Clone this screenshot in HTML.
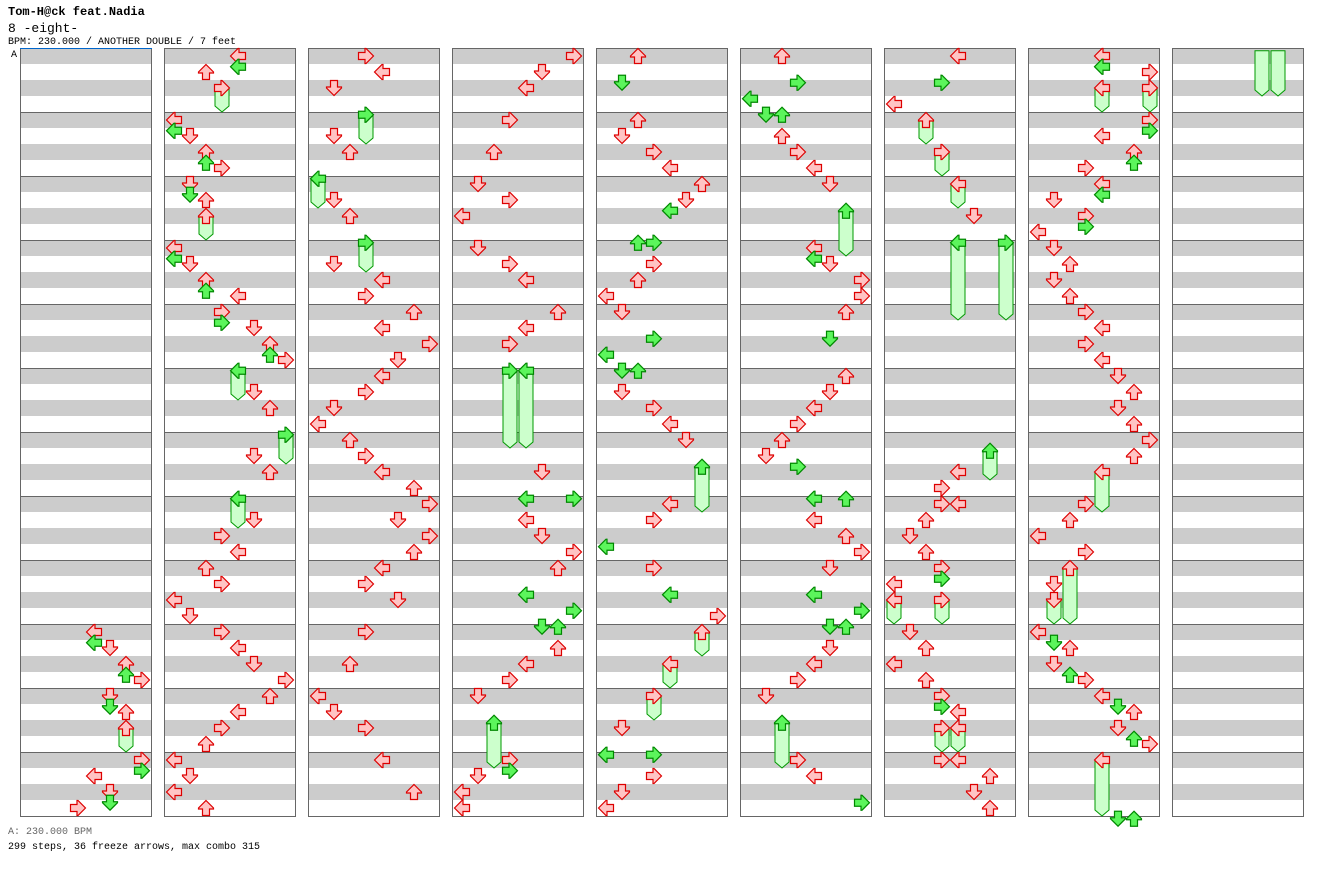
<!DOCTYPE html>
<html><head><meta charset="utf-8"><title>8 -eight- ANOTHER DOUBLE</title>
<style>
html,body{margin:0;padding:0;background:#fff;}
svg{display:block;font-family:"Liberation Mono",monospace;}
</style></head>
<body>
<svg id="chart" width="1328" height="876" viewBox="0 0 1328 876" xmlns="http://www.w3.org/2000/svg">
<text x="8" y="15" font-size="12" font-weight="bold" fill="#000">Tom-H@ck feat.Nadia</text>
<text x="8" y="32" font-size="13" fill="#000">8 -eight-</text>
<text x="8" y="44" font-size="10" fill="#000">BPM: 230.000 / ANOTHER DOUBLE / 7 feet</text>
<g id="cols"></g>
<g id="bodies"></g>
<g id="arrows"></g>
<line x1="20" y1="48.5" x2="152" y2="48.5" stroke="#0066cc" stroke-width="1"/>
<text x="11" y="57" font-size="10" fill="#000">A</text>
<text x="8" y="834" font-size="10" fill="#666">A: 230.000 BPM</text>
<text x="8" y="849" font-size="10" fill="#000">299 steps, 36 freeze arrows, max combo 315</text>
</svg>
<script>
// ---- chart data: per column, beat within column (0..47) and lane (0..7) ----
const noteBeats = [
[36,36.67,37,38,38.67,39,40,40.67,41,44,44.67,45,46,46.67,47],
[0,0.67,1,4,4.67,5,6,6.67,7,8,8.67,9,12,12.67,13,14,14.67,15,16,16.67,17,18,18.67,19,21,22,25,26,29,30,31,32,33,34,35,36,37,38,39,40,41,42,43,44,45,46,47],
[0,1,2,5,6,9,10,13,14,15,16,17,18,19,20,21,22,23,24,25,26,27,28,29,30,31,32,33,34,36,38,40,41,42,44,46],
[0,1,2,4,6,8,9,10,12,13,14,16,17,18,26,27.67,27.67,29,30,31,32,33.67,34.67,35.67,35.67,37,38,39,40,44,44.67,45,46,47],
[0,1.67,4,5,6,7,8,9,9.67,11.67,11.67,13,14,15,16,17.67,18.67,19.67,19.67,21,22,23,24,28,29,30.67,32,33.67,35,42,43.67,43.67,45,46,47],
[0,1.67,2.67,3.67,3.67,5,6,7,8,12,12.67,13,14,15,16,17.67,20,21,22,23,24,25,25.67,27.67,27.67,29,30,31,32,33.67,34.67,35.67,35.67,37,38,39,40,44,45,46.67],
[0,1.67,3,10,26,27,28,28,29,30,31,32,32.67,33,36,37,38,39,40,40.67,41,44,44,45,46,47],
[0,0.67,1,4,4.67,5,6,6.67,7,8,8.67,9,10,10.67,11,12,13,14,15,16,17,18,19,20,21,22,23,24,25,28,29,30,31,33,36,36.67,37,38,38.67,39,40,40.67,41,42,42.67,43],
[]];
const noteLanes = [
[4,4,5,6,6,7,5,5,6,7,7,4,5,5,3],
[4,4,2,0,0,1,2,2,3,1,1,2,0,0,1,2,2,4,3,3,5,6,6,7,5,6,5,6,5,3,4,2,3,0,1,3,4,5,7,6,4,3,2,0,1,0,2],
[3,4,1,1,2,1,2,1,4,3,6,4,7,5,4,3,1,0,2,3,4,6,7,5,7,6,4,3,5,3,2,0,1,3,4,6],
[7,5,4,3,2,1,3,0,1,3,4,6,4,3,5,4,7,4,5,7,6,4,7,5,6,6,4,3,1,3,3,1,0,0],
[2,1,2,1,3,4,6,5,4,2,3,3,2,0,1,3,0,1,2,1,3,4,5,4,3,0,3,4,7,1,0,3,3,1,0],
[2,3,0,1,2,2,3,4,5,4,4,5,7,7,6,5,6,5,4,3,2,1,3,4,6,4,6,7,5,4,7,5,6,5,4,3,1,3,4,7],
[4,3,0,5,4,3,3,4,2,1,2,3,3,0,1,2,0,2,3,3,4,3,4,6,5,6],
[4,4,7,7,7,4,6,6,3,4,4,1,3,3,0,1,2,1,2,3,4,3,4,5,6,5,6,7,6,3,2,0,3,1,0,1,2,1,2,3,4,5,6,5,6,7],
[]];
// freeze arrows: head column, head beat, lane, end beat (relative to head column)
const freezeCol  = [0,1,1,1,1,1,2,2,2,3,3,3,4,4,4,4,5,5,6,6,6,6,6,6,6,6,6,6,7,7,7,7,7,7,7,7];
const freezeBeat = [42,2,10,19.67,23.67,27.67,3.67,7.67,11.67,19.67,19.67,41.67,25.67,36,38,40,9.67,41.67,4,6,8,11.67,11.67,24.67,34,34,42,42,2,2,26,32,34,44,47.67,47.67];
const freezeLane = [6,3,2,4,7,4,3,0,3,3,4,2,6,6,4,3,6,2,2,3,4,4,7,6,0,3,3,4,4,7,4,2,1,4,5,6];
const freezeEnd  = [43,3,11,21,25,29,5,9,13,24,24,44,28,37,39,41,12,44,5,7,9,16,16,26,35,35,43,43,3,3,28,35,35,47,50,50];

// ---- layout helpers ----
const NS = 'http://www.w3.org/2000/svg';
const COLS = 9, BEATS = 48, TOP = 48, BOTTOM = 816;
function colX(c){ return 20 + 144*c; }
function laneX(c, lane){ return colX(c) + 10 + 16*lane; }
function beatY(b){ return TOP + 8 + 16*b; }
function isOnBeat(b){ return Math.abs(b - Math.round(b)) < 0.01; }
const dirRot = [-90, 180, 0, 90]; // left, down, up, right
const dirName = ['left','down','up','right'];

const colsG = document.getElementById('cols');
for (let c = 0; c < COLS; c++) {
  const g = document.createElementNS(NS, 'g');
  
  
  const x0 = colX(c);
  for (let s = 0; s < 48; s++) {
    const r = document.createElementNS(NS, 'rect');
    r.setAttribute('x', x0); r.setAttribute('y', TOP + 16*s);
    r.setAttribute('width', 132); r.setAttribute('height', 16);
    r.setAttribute('fill', s % 2 === 0 ? '#cccccc' : '#ffffff');
    g.appendChild(r);
  }
  for (let m = 0; m <= 12; m++) {
    const l = document.createElementNS(NS, 'line');
    
    
    const y = TOP + 64*m + 0.5;
    l.setAttribute('x1', x0); l.setAttribute('x2', x0 + 132);
    l.setAttribute('y1', y); l.setAttribute('y2', y);
    l.setAttribute('stroke', '#666'); l.setAttribute('stroke-width', 1);
    g.appendChild(l);
  }
  const b = document.createElementNS(NS, 'rect');
  b.setAttribute('x', x0 + 0.5); b.setAttribute('y', TOP + 0.5);
  b.setAttribute('width', 131); b.setAttribute('height', BOTTOM - TOP);
  b.setAttribute('fill', 'none'); b.setAttribute('stroke', '#666');
  g.appendChild(b);
  colsG.appendChild(g);
}

const arrowPts = '0,-7.5 7.5,0 7.5,1 3.5,1 3.5,7.5 -3.5,7.5 -3.5,1 -7.5,1 -7.5,0';
const arrowsG = document.getElementById('arrows');
function drawArrow(c, b, lane, name) {
  const p = document.createElementNS(NS, 'polygon');
  
  
  const red = isOnBeat(b);
  p.setAttribute('points', arrowPts);
  p.setAttribute('fill', red ? '#ffc4c4' : '#5cf55c');
  p.setAttribute('stroke', red ? '#dd0000' : '#008800');
  p.setAttribute('stroke-width', 1.2);
  p.setAttribute('transform', 'translate(' + laneX(c, lane) + ',' + beatY(b) + ') rotate(' + dirRot[lane % 4] + ')');
  arrowsG.appendChild(p);
}

const bodiesG = document.getElementById('bodies');
for (let i = 0; i < freezeCol.length; i++) {
  const hc = freezeCol[i];
  const gStart = hc*BEATS + freezeBeat[i], gEnd = hc*BEATS + freezeEnd[i];
  for (let c = hc; c <= Math.floor(gEnd / BEATS) && c < COLS; c++) {
    const sB = gStart - c*BEATS, eB = gEnd - c*BEATS;
    let top = Math.max(TOP, beatY(sB));
    let bot = beatY(eB) + 8;
    const clipped = bot > BOTTOM;
    bot = Math.min(BOTTOM, bot);
    if (bot - top < 2) continue;
    const x = laneX(c, freezeLane[i]);
    const p = document.createElementNS(NS, 'polygon');
    
    
    const pts = clipped
      ? [[x-7,top],[x+7,top],[x+7,bot],[x-7,bot]]
      : [[x-7,top],[x+7,top],[x+7,bot-6],[x,bot],[x-7,bot-6]];
    p.setAttribute('points', pts.map(q => q.join(',')).join(' '));
    p.setAttribute('fill', '#ccffcc');
    p.setAttribute('stroke', '#009900');
    p.setAttribute('stroke-width', 1);
    bodiesG.appendChild(p);
  }
  drawArrow(hc, freezeBeat[i], freezeLane[i], 'freeze-head-' + dirName[freezeLane[i] % 4]);
}

for (let c = 0; c < COLS; c++) {
  for (let i = 0; i < noteBeats[c].length; i++) {
    drawArrow(c, noteBeats[c][i], noteLanes[c][i], 'step-arrow-' + dirName[noteLanes[c][i] % 4]);
  }
}
</script>
</body></html>
